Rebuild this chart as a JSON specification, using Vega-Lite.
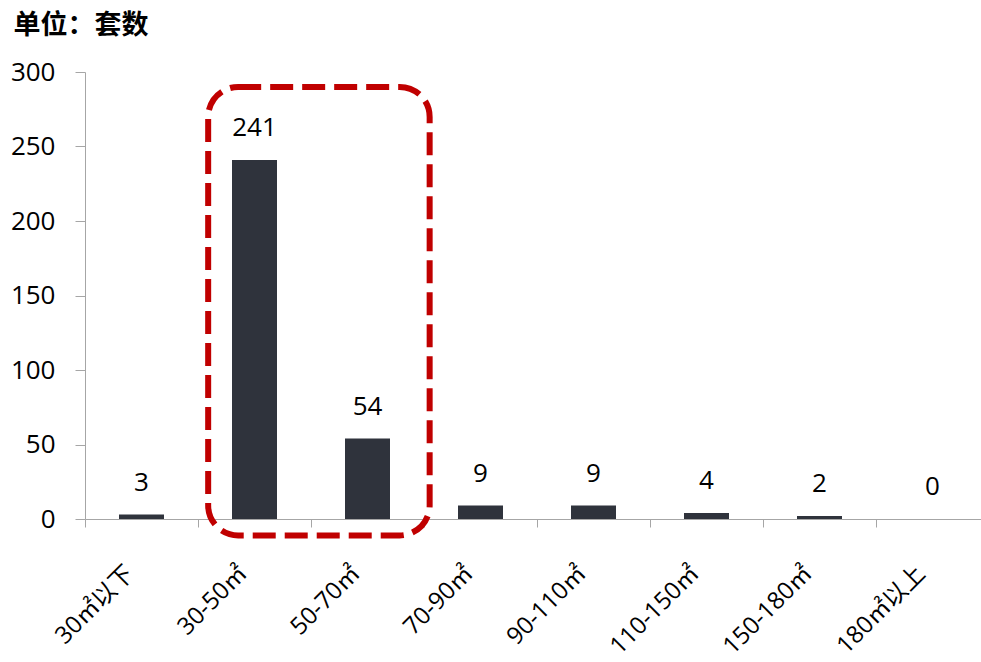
{
  "$schema": "https://vega.github.io/schema/vega-lite/v6.json",
  "width": 904,
  "height": 447,
  "autosize": {"type": "none"},
  "padding": {"left": 85, "top": 72, "right": 0, "bottom": 143},
  "background": "white",
  "config": {"view": {"stroke": null}, "font": "Open Sans, Noto Sans CJK SC"},
  "title": {"text": "单位：套数", "anchor": "start", "frame": "bounds", "font": "Noto Sans CJK SC", "fontSize": 27, "fontWeight": "bold", "color": "#000000", "offset": 19, "dx": 3},
  "data": {"values": [
    {"area": "30㎡以下", "count": 3},
    {"area": "30-50㎡", "count": 241},
    {"area": "50-70㎡", "count": 54},
    {"area": "70-90㎡", "count": 9},
    {"area": "90-110㎡", "count": 9},
    {"area": "110-150㎡", "count": 4},
    {"area": "150-180㎡", "count": 2},
    {"area": "180㎡以上", "count": 0}
  ]},
  "layer": [
    {
      "encoding": {
        "x": {"field": "area", "type": "nominal", "sort": null, "title": null,
          "scale": {"paddingInner": 0, "paddingOuter": 0},
          "axis": {"tickBand": "extent", "tickSize": 8, "tickColor": "#a6a6a6", "domainColor": "#a6a6a6", "labelAngle": -45, "labelFontSize": 24, "labelColor": "#000000", "labelPadding": 34, "labelOffset": -20, "labelFont": "Open Sans, Noto Sans CJK SC"}},
        "y": {"field": "count", "type": "quantitative", "title": null,
          "scale": {"domain": [0, 300]},
          "axis": {"values": [0, 50, 100, 150, 200, 250, 300], "grid": false, "tickSize": 10, "tickColor": "#a6a6a6", "domainColor": "#a6a6a6", "labelFontSize": 26, "labelColor": "#000000", "labelPadding": 20}}
      },
      "layer": [
        {"mark": {"type": "bar", "color": "#2f333c", "size": 45}},
        {
          "mark": {"type": "text", "dy": -32, "fontSize": 26, "color": "#000000", "baseline": "middle"},
          "encoding": {"text": {"field": "count", "type": "quantitative"}}
        }
      ]
    },
    {
      "data": {"values": [{"box": "highlight"}]},
      "mark": {"type": "rect", "fill": null, "stroke": "#c00000", "strokeWidth": 6, "strokeDash": [23, 9], "cornerRadius": 30, "clip": false},
      "encoding": {
        "x": {"datum": 1.09, "type": "quantitative", "scale": {"domain": [0, 8], "nice": false, "zero": false}, "axis": null},
        "x2": {"datum": 3.05},
        "y": {"datum": -11, "type": "quantitative"},
        "y2": {"datum": 290}
      }
    }
  ],
  "resolve": {"scale": {"x": "independent"}}
}
